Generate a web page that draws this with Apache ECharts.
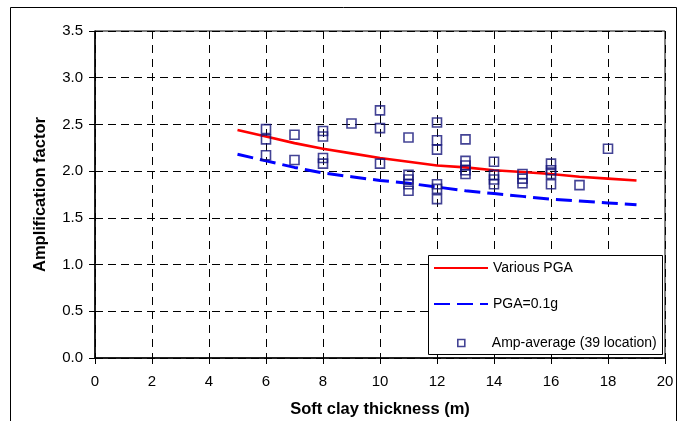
<!DOCTYPE html>
<html>
<head>
<meta charset="utf-8">
<script src="https://cdn.jsdelivr.net/npm/echarts@6/dist/echarts.min.js"></script>
<style>
html,body{margin:0;padding:0;background:#fff;}
#c{width:685px;height:421px;}
</style>
</head>
<body>
<div id="c"></div>
<script>
// ---- data ----
var xTicks = [0, 2, 4, 6, 8, 10, 12, 14, 16, 18, 20];
var yTicks = [0, 0.5, 1.0, 1.5, 2.0, 2.5, 3.0, 3.5];

var curveX = [5, 6, 7, 8, 9, 10, 11, 12, 13, 14, 15, 16, 17, 18, 19];
var variousPGA = [2.44, 2.37, 2.30, 2.24, 2.19, 2.14, 2.10, 2.06, 2.04, 2.01, 1.99, 1.97, 1.94, 1.92, 1.90];
var pga01g = [2.18, 2.11, 2.04, 1.98, 1.94, 1.90, 1.87, 1.83, 1.79, 1.76, 1.73, 1.70, 1.68, 1.66, 1.64];

var ampX = [6, 6, 6,
            7, 7,
            8, 8, 8, 8,
            9,
            10, 10, 10,
            11, 11, 11, 11, 11,
            12, 12, 12, 12, 12, 12,
            13, 13, 13, 13, 13,
            14, 14, 14, 14,
            15, 15, 15,
            16, 16, 16, 16,
            17,
            18];
var ampY = [2.45, 2.34, 2.17,
            2.39, 2.12,
            2.43, 2.37, 2.14, 2.08,
            2.51,
            2.65, 2.46, 2.08,
            2.36, 1.96, 1.91, 1.86, 1.79,
            2.52, 2.33, 2.23, 1.86, 1.81, 1.70,
            2.34, 2.11, 2.06, 2.01, 1.97,
            2.10, 1.96, 1.91, 1.86,
            1.97, 1.92, 1.87,
            2.08, 2.01, 1.97, 1.86,
            1.85,
            2.24];

var names = ['Various PGA', 'PGA=0.1g', 'Amp-average (39 location)'];

function pairs(xs, ys) { return xs.map(function (x, i) { return [x, ys[i]]; }); }

var FONT = "'Liberation Sans', Arial, sans-serif";
var chart = echarts.init(document.getElementById('c'), null, {renderer: 'canvas'});

var legendText = {fontFamily: FONT, fontSize: 14, color: '#000'};
var SQ = '#14147a';

chart.setOption({
  backgroundColor: '#fff',
  animation: false,
  grid: {left: 95, right: 20, top: 31, bottom: 63, show: true, borderColor: '#000', borderWidth: 1, backgroundColor: '#fff',
         containLabel: false, outerBoundsMode: 'none'},
  graphic: [
    {type: 'rect', shape: {x: 10.5, y: 7.5, width: 666, height: 430}, style: {fill: 'none', stroke: '#000', lineWidth: 1}, z: 0, silent: true},
    {type: 'rect', shape: {x: 428.5, y: 255.5, width: 234, height: 99}, style: {fill: '#fff', stroke: '#000', lineWidth: 1}, z: 50, silent: true}
  ],
  legend: [
    {data: [names[0]], left: 433, top: 261, padding: 0, itemWidth: 54, itemHeight: 14, textStyle: legendText, z: 60, selectedMode: false,
     itemStyle: {opacity: 0}},
    {data: [names[1]], left: 433, top: 297, padding: 0, itemWidth: 54, itemHeight: 14, textStyle: legendText, z: 60, selectedMode: false,
     itemStyle: {opacity: 0}},
    {data: [{name: names[2], icon: 'rect'}], left: 457, top: 336, padding: 0, itemWidth: 7, itemHeight: 7,
     textStyle: {fontFamily: FONT, fontSize: 14, color: '#000', padding: [0, 0, 0, 22]}, z: 60, selectedMode: false,
     itemStyle: {color: 'rgba(0,0,0,0)', borderColor: SQ, borderWidth: 1.6}}
  ],
  xAxis: {
    type: 'value', min: 0, max: 20, interval: 2,
    name: 'Soft clay thickness (m)', nameLocation: 'middle', nameGap: 43,
    nameTextStyle: {fontFamily: FONT, fontSize: 16.5, fontWeight: 'bold', color: '#000'},
    axisLine: {show: true, onZero: false, lineStyle: {color: '#000', width: 1.5}},
    axisTick: {show: true, length: 6, lineStyle: {color: '#000', width: 1}},
    axisLabel: {fontFamily: FONT, fontSize: 15, color: '#000', margin: 16,
      formatter: function (v) { return xTicks.indexOf(v) >= 0 ? String(v) : ''; }},
    splitLine: {show: true, lineStyle: {color: '#000', width: 1, type: [8, 6]}}
  },
  yAxis: {
    type: 'value', min: 0, max: 3.5, interval: 0.5,
    name: 'Amplification factor', nameLocation: 'middle', nameGap: 46,
    nameTextStyle: {fontFamily: FONT, fontSize: 16.5, fontWeight: 'bold', color: '#000'},
    axisLine: {show: true, onZero: false, lineStyle: {color: '#000', width: 1.5}},
    axisTick: {show: true, length: 6, lineStyle: {color: '#000', width: 1}},
    axisLabel: {fontFamily: FONT, fontSize: 15, color: '#000', margin: 12,
      formatter: function (v) { return yTicks.indexOf(v) >= 0 ? v.toFixed(1) : ''; }},
    splitLine: {show: true, lineStyle: {color: '#000', width: 1, type: [8, 5]}}
  },
  series: [
    {name: names[0], type: 'line', data: pairs(curveX, variousPGA), symbol: 'none', z: 3,
     lineStyle: {color: '#ff0000', width: 2.6}, itemStyle: {color: '#ff0000'}},
    {name: names[1], type: 'line', data: pairs(curveX, pga01g), symbol: 'none', z: 3,
     lineStyle: {color: '#0000ff', width: 3, type: [16, 7]}, itemStyle: {color: '#0000ff'}},
    {name: names[2], type: 'scatter', data: pairs(ampX, ampY), symbol: 'rect', symbolSize: 9, z: 4,
     itemStyle: {color: 'rgba(0,0,0,0)', borderColor: SQ, borderWidth: 1.6}}
  ]
});
</script>
</body>
</html>
